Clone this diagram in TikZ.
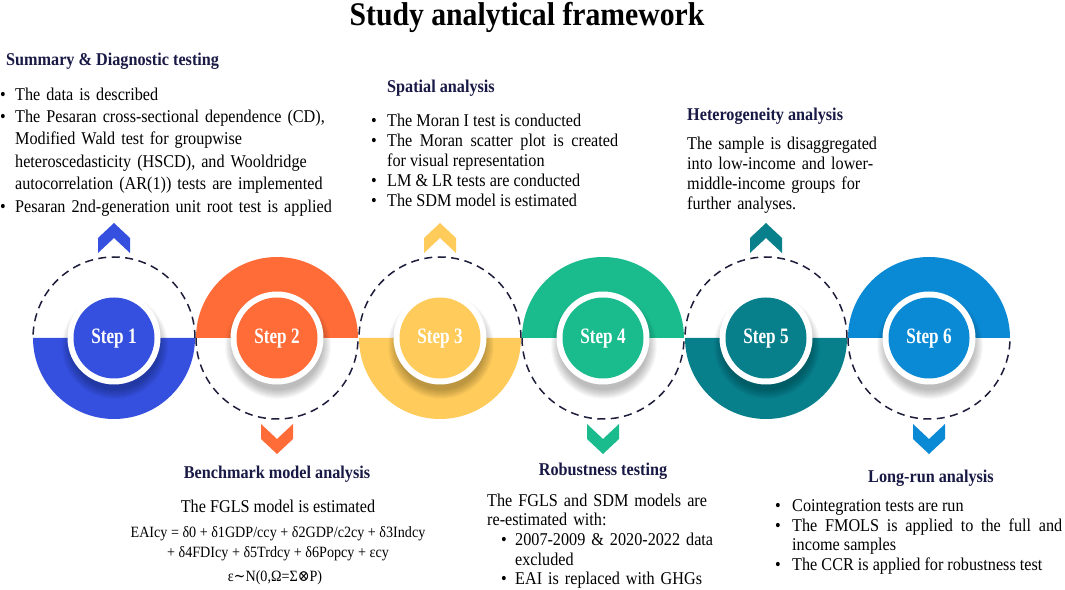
\documentclass[tikz,border=0pt]{standalone}
\usepackage{fontspec}
\setmainfont{Liberation Serif}[FakeStretch=0.90]
\newfontfamily\stepfont{Liberation Serif}[FakeStretch=0.78]
\newfontfamily\symfont{DejaVu Serif}[FakeStretch=0.90]
\definecolor{c1}{HTML}{3550DE}
\definecolor{c2}{HTML}{FF6C38}
\definecolor{c3}{HTML}{FFCC5C}
\definecolor{c4}{HTML}{1ABC8E}
\definecolor{c5}{HTML}{08808C}
\definecolor{c6}{HTML}{0A8AD4}
\definecolor{navy}{HTML}{191946}
\definecolor{dashc}{HTML}{1E1E3C}
\newcommand\bitem[2][15pt]{\par\noindent\hangindent=#1\hangafter=1\strut\makebox[#1][l]{\textbullet}#2}
\tikzset{
  body/.style={font=\fontsize{18}{#1}\selectfont, inner sep=0pt, anchor=north west},
  body/.default=20,
  head/.style={font=\fontsize{18}{20}\selectfont\bfseries, text=navy, inner sep=0pt},
  eqn/.style={font=\fontsize{15.7}{18}\selectfont, inner sep=0pt},
  bodyline/.style={font=\fontsize{18}{20}\selectfont, inner sep=0pt},
  dashcirc/.style={draw=dashc, line width=1.5pt, dash pattern=on 8pt off 5.5pt},
  steplabel/.style={font=\fontsize{22}{22}\selectfont\stepfont\bfseries, text=white, inner sep=0pt, anchor=base},
  titlestyle/.style={font=\fontsize{33}{35}\selectfont\bfseries, inner sep=0pt, anchor=base}
}
\begin{document}
\begin{tikzpicture}[x=1pt,y=1pt]
\fill[white] (0,0) rectangle (1065,589);
\useasboundingbox (0,0) rectangle (1065,589);

\node[titlestyle] (title) at (527,563.5) {Study analytical framework};

% dashed halves
\foreach \x in {114,440,766} \draw[dashcirc] (\x+81,251) arc (0:180:81);
\foreach \x in {277,603,929} \draw[dashcirc] (\x-81,251) arc (180:360:81);

% filled halves and chevrons
\foreach \x/\col in {114/c1,440/c3,766/c5}{
  \fill[\col] (\x-81,251) arc (180:360:81) -- cycle;
  \fill[\col] (\x-16,336) -- (\x-16,351) -- (\x,366) -- (\x+16,351) -- (\x+16,336) -- (\x,351) -- cycle;
}
\foreach \x/\col in {277/c2,603/c4,929/c6}{
  \fill[\col] (\x+81,251) arc (0:180:81) -- cycle;
  \fill[\col] (\x-16,165) -- (\x-16,150) -- (\x,135) -- (\x+16,150) -- (\x+16,165) -- (\x,150) -- cycle;
}

% step discs
\foreach \x/\col/\n in {114/c1/1,277/c2/2,440/c3/3,603/c4/4,766/c5/5,929/c6/6}{
  \foreach \k in {0,...,9} \fill[black, opacity=0.026] (\x+1,243) circle (44+\k);
  \fill[white] (\x,251) circle (46.5);
  \fill[\col] (\x,251) circle (40.5);
  \node[steplabel] (s\n) at (\x,245) {Step \n};
}

% Step 1 text
\node[head, anchor=base west] (h1) at (6,523) {Summary \& Diagnostic testing};
\node[body=22.4, text width=350pt, align=left] (t1) at (0,511.5) {%
\bitem{The data is described}
\bitem{The Pesaran cross-sectional dependence (CD),\newline Modified Wald test for groupwise\newline heteroscedasticity (HSCD), and Wooldridge\newline autocorrelation (AR(1)) tests are implemented}
\bitem{Pesaran 2nd-generation unit root test is applied}};

% Step 3 text
\node[head, anchor=base west] (h3) at (387,496) {Spatial analysis};
\node[body=20, text width=247pt, align=justify] (t3) at (371,482.5) {%
\bitem[16pt]{The Moran I test is conducted}
\bitem[16pt]{The Moran scatter plot is created\linebreak for visual representation}
\bitem[16pt]{LM \& LR tests are conducted}
\bitem[16pt]{The SDM model is estimated}};

% Step 5 text
\node[head, anchor=base west] (h5) at (687,468) {Heterogeneity analysis};
\node[body=20, text width=250pt, align=left] (t5) at (687,454) {%
\strut The sample is disaggregated\newline into low-income and lower-\newline middle-income groups for\newline further analyses.};

% Step 2 text
\node[head, anchor=base] (h2) at (277,110) {Benchmark model analysis};
\node[bodyline, anchor=base] (t2) at (278,76) {The FGLS model is estimated};
\node[eqn, anchor=base] (e1) at (278,51) {EAIcy = δ0 + δ1GDP/ccy + δ2GDP/c2cy + δ3Indcy};
\node[eqn, anchor=base] (e2) at (278,31) {+ δ4FDIcy + δ5Trdcy + δ6Popcy + εcy};
\node[eqn, anchor=base] (e3) at (275,8) {ε{\symfont ∼}N(0,Ω=Σ{\symfont ⊗}P)};

% Step 4 text
\node[head, anchor=base] (h4) at (603,113) {Robustness testing};
\node[body=19.6, text width=280pt, align=left] (t4) at (487,96.6) {%
\strut The FGLS and SDM models are\newline re-estimated with:\par
\noindent\hangindent=28pt\hangafter=1\hspace*{14pt}\makebox[14pt][l]{\textbullet}2007-2009 \& 2020-2022 data\newline excluded\par
\noindent\hangindent=28pt\hangafter=1\hspace*{14pt}\makebox[14pt][l]{\textbullet}EAI is replaced with GHGs};

% Step 6 text
\node[head, anchor=base] (h6) at (931,106) {Long-run analysis};
\node[body=19.7, text width=287pt, align=justify] (t6) at (775,97.5) {%
\bitem[17pt]{Cointegration tests are run}
\bitem[17pt]{The FMOLS is applied to the full and\linebreak income samples}
\bitem[17pt]{The CCR is applied for robustness test}};
\end{tikzpicture}
\end{document}
